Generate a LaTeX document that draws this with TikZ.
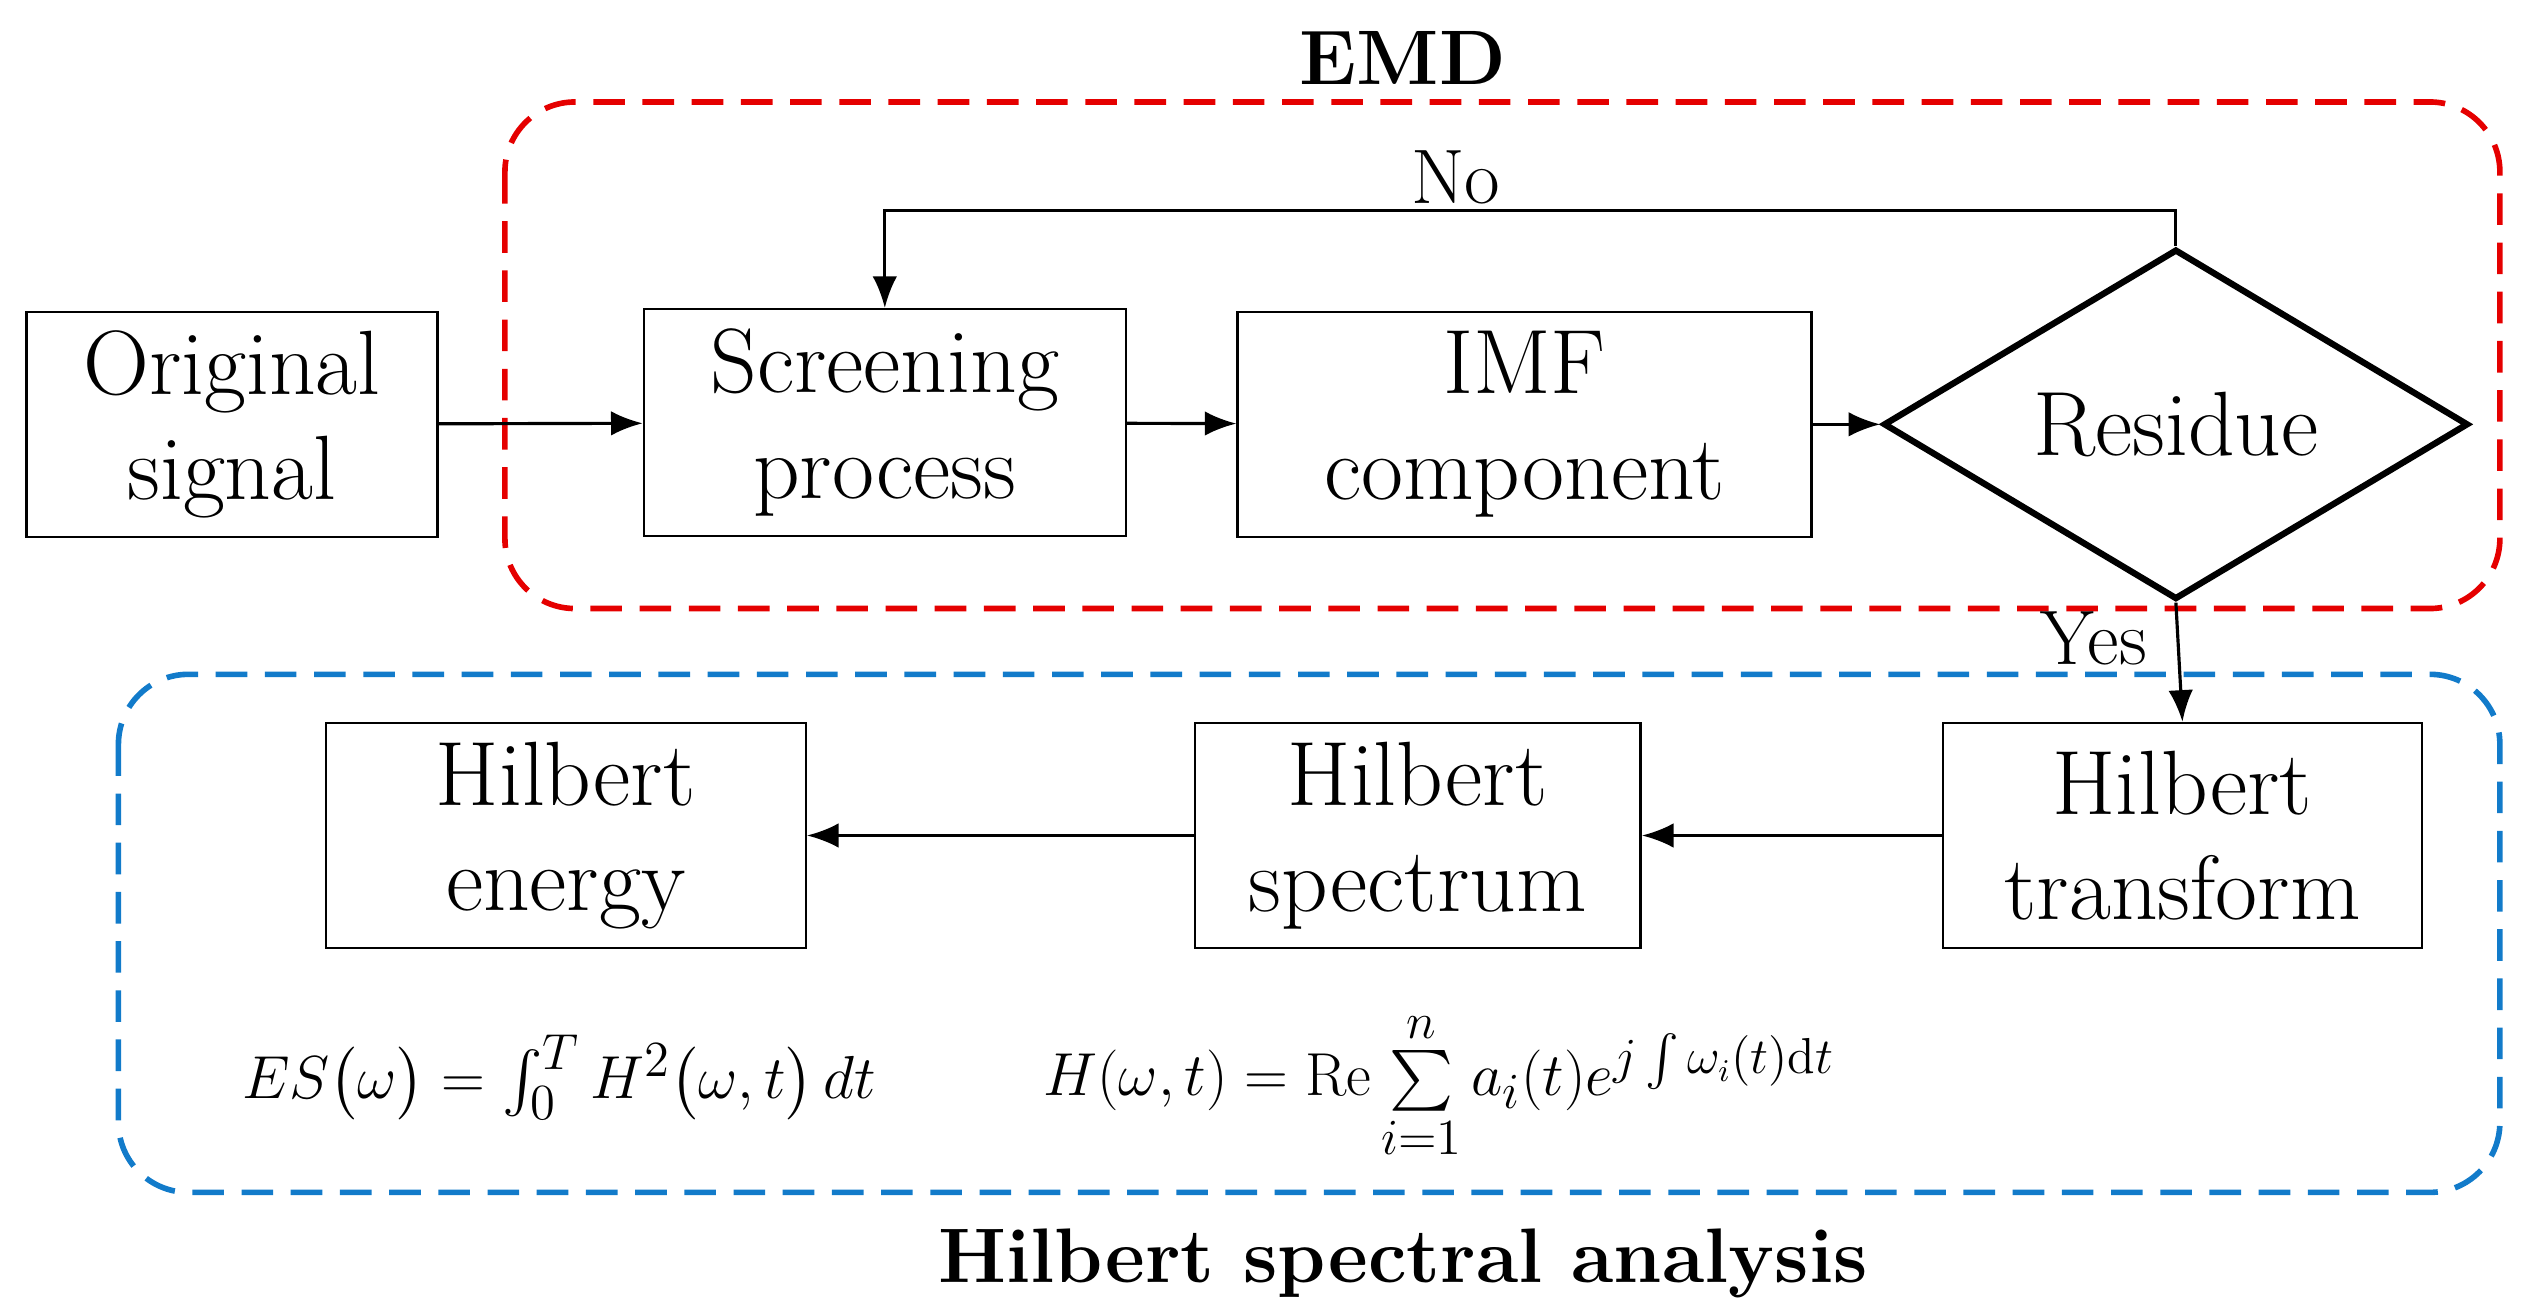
\documentclass[tikz,border=0pt]{standalone}
\usepackage{amsmath}
\usepackage{tikz}
\usetikzlibrary{shapes.geometric, arrows.meta, positioning, calc}

\begin{document}
\begin{tikzpicture}[
        x=0.01645cm, y=-0.01645cm,
        stage/.style={rectangle, draw=black, line width=0.7pt, align=center, inner sep=0pt, font=\fontsize{26}{30}\selectfont},
        region/.style={draw, line width=1.6pt, rounded corners=0.7cm, dash pattern=on 9pt off 5pt},
        flow/.style={-{Latex[length=9pt,width=7pt]}, line width=0.9pt}
    ]
        \useasboundingbox (0,0) rectangle (1545,799);

        % Regions
        \draw[region, draw=red!90!black] (307,62) rectangle (1520,370);
        \draw[region, draw=cyan!60!blue] (72,410) rectangle (1520,725);
        \node[font=\fontsize{22}{26}\selectfont\bfseries] (emd) at (853,35) {EMD};
        \node[font=\fontsize{22}{26}\selectfont\bfseries] (hsa) at (853,768) {Hilbert spectral analysis};

        % Stages
        \node[stage, minimum width=4.11cm, minimum height=2.25cm] (orig) at (141,258) {Original\\signal};
        \node[stage, minimum width=4.82cm, minimum height=2.27cm] (screen) at (538,257) {Screening\\process};
        \node[stage, minimum width=5.74cm, minimum height=2.25cm] (imf) at (927,258) {IMF\\component};
        \node[diamond, draw=black, line width=1.8pt, minimum width=5.85cm, minimum height=2.75cm, inner sep=0pt, font=\fontsize{26}{30}\selectfont] (res) at (1323,258) {Residue};
        \node[stage, minimum width=4.79cm, minimum height=2.25cm] (htrans) at (1327,508) {Hilbert\\transform};
        \node[stage, minimum width=4.46cm, minimum height=2.25cm] (hspec) at (862,508) {Hilbert\\spectrum};
        \node[stage, minimum width=4.80cm, minimum height=2.25cm] (hen) at (344,508) {Hilbert\\energy};

        % Connections
        \draw[flow] (orig) -- (screen);
        \draw[flow] (screen) -- (imf);
        \draw[flow] (imf) -- (res);
        \draw[flow] (res.north) |- (1000,128) -| (screen.north);
        \node[font=\fontsize{22}{26}\selectfont] (no) at (885,108) {No};
        \draw[flow] (res.south) -- (htrans.north);
        \node[font=\fontsize{22}{26}\selectfont] (yes) at (1273,388) {Yes};
        \draw[flow] (htrans) -- (hspec);
        \draw[flow] (hspec) -- (hen);

        % Formulas
        \node[font=\fontsize{19}{22}\selectfont] (eq1) at (340,655) {$ES\big(\omega\big)=\int_0^T H^2\big(\omega,t\big)\,dt$};
        \node[font=\fontsize{19}{22}\selectfont] (eq2) at (875,660) {$H(\omega,t)=\mathrm{Re}\sum\limits_{i=1}^{n} a_i(t)e^{j\int\omega_i(t)\mathrm{d}t}$};
    \end{tikzpicture}
\end{document}
